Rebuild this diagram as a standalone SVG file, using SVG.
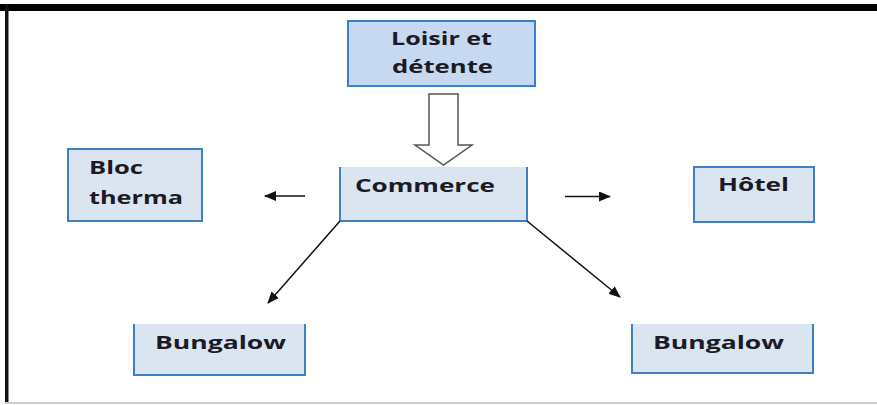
<svg xmlns="http://www.w3.org/2000/svg" width="877" height="405" viewBox="0 0 877 405">
<style>
.bx{fill:#dbe5f1;stroke:none}
.bd{fill:none;stroke:#3d80c6;stroke-width:2}
.lt{fill:#c6d9f0}
.t{font-family:"Open Sans","Liberation Sans",sans-serif;font-weight:bold;font-size:18px;fill:#1c1a24}
.c{stroke:#111;stroke-width:1.5;fill:none}
</style>
<defs>
<marker id="ah" markerUnits="userSpaceOnUse" markerWidth="12" markerHeight="10" refX="11" refY="5" orient="auto">
<path d="M0,0 L12,5 L0,10 Z" fill="#111"/>
</marker>
</defs>
<rect x="0" y="0" width="877" height="405" fill="#fff"/>
<rect x="0" y="4" width="877" height="7" fill="#000"/>
<rect x="5" y="4" width="3.5" height="399" fill="#111"/>
<rect x="5" y="402" width="872" height="2" fill="#cfcfcf"/>

<g id="loisir">
<rect x="348" y="21" width="187" height="65" class="lt" stroke="#3d80c6" stroke-width="2"/>
<text class="t" x="391" y="45" textLength="101" lengthAdjust="spacingAndGlyphs">Loisir et</text>
<text class="t" x="392" y="73" textLength="101" lengthAdjust="spacingAndGlyphs">détente</text>
</g>

<g id="commerce">
<rect x="340" y="167" width="187" height="54" class="bx"/>
<path d="M340,167 V221 H527 V167" class="bd"/>
<text class="t" x="355" y="192" textLength="140" lengthAdjust="spacingAndGlyphs">Commerce</text>
</g>

<g id="bloc">
<rect x="68" y="149" width="134" height="72" class="bx"/>
<rect x="68" y="149" width="134" height="72" class="bd"/>
<text class="t" x="89" y="174" textLength="54" lengthAdjust="spacingAndGlyphs">Bloc</text>
<text class="t" x="89" y="204" textLength="94" lengthAdjust="spacingAndGlyphs">therma</text>
</g>

<g id="hotel">
<rect x="694" y="167" width="120" height="55" class="bx"/>
<rect x="694" y="167" width="120" height="55" class="bd"/>
<text class="t" x="718" y="191" textLength="71" lengthAdjust="spacingAndGlyphs">Hôtel</text>
</g>

<g id="bungalow1">
<rect x="134" y="324" width="171" height="51" class="bx"/>
<path d="M134,324 V375 H305 V324" class="bd"/>
<text class="t" x="155" y="349" textLength="131" lengthAdjust="spacingAndGlyphs">Bungalow</text>
</g>

<g id="bungalow2">
<rect x="632" y="324" width="181" height="49" class="bx"/>
<path d="M632,324 V373 H813 V324" class="bd"/>
<text class="t" x="653" y="349" textLength="131" lengthAdjust="spacingAndGlyphs">Bungalow</text>
</g>

<g id="connectors">
<path d="M429,94 H458 V145 H472 L443.5,165 L415,145 H429 Z" fill="#fff" stroke="#555" stroke-width="1.5"/>
<line x1="305" y1="196" x2="265" y2="196" class="c" marker-end="url(#ah)"/>
<line x1="565" y1="196.5" x2="610" y2="196.5" class="c" marker-end="url(#ah)"/>
<line x1="340" y1="221" x2="268" y2="303" class="c" marker-end="url(#ah)"/>
<line x1="527" y1="221" x2="620" y2="297" class="c" marker-end="url(#ah)"/>
</g>
</svg>
